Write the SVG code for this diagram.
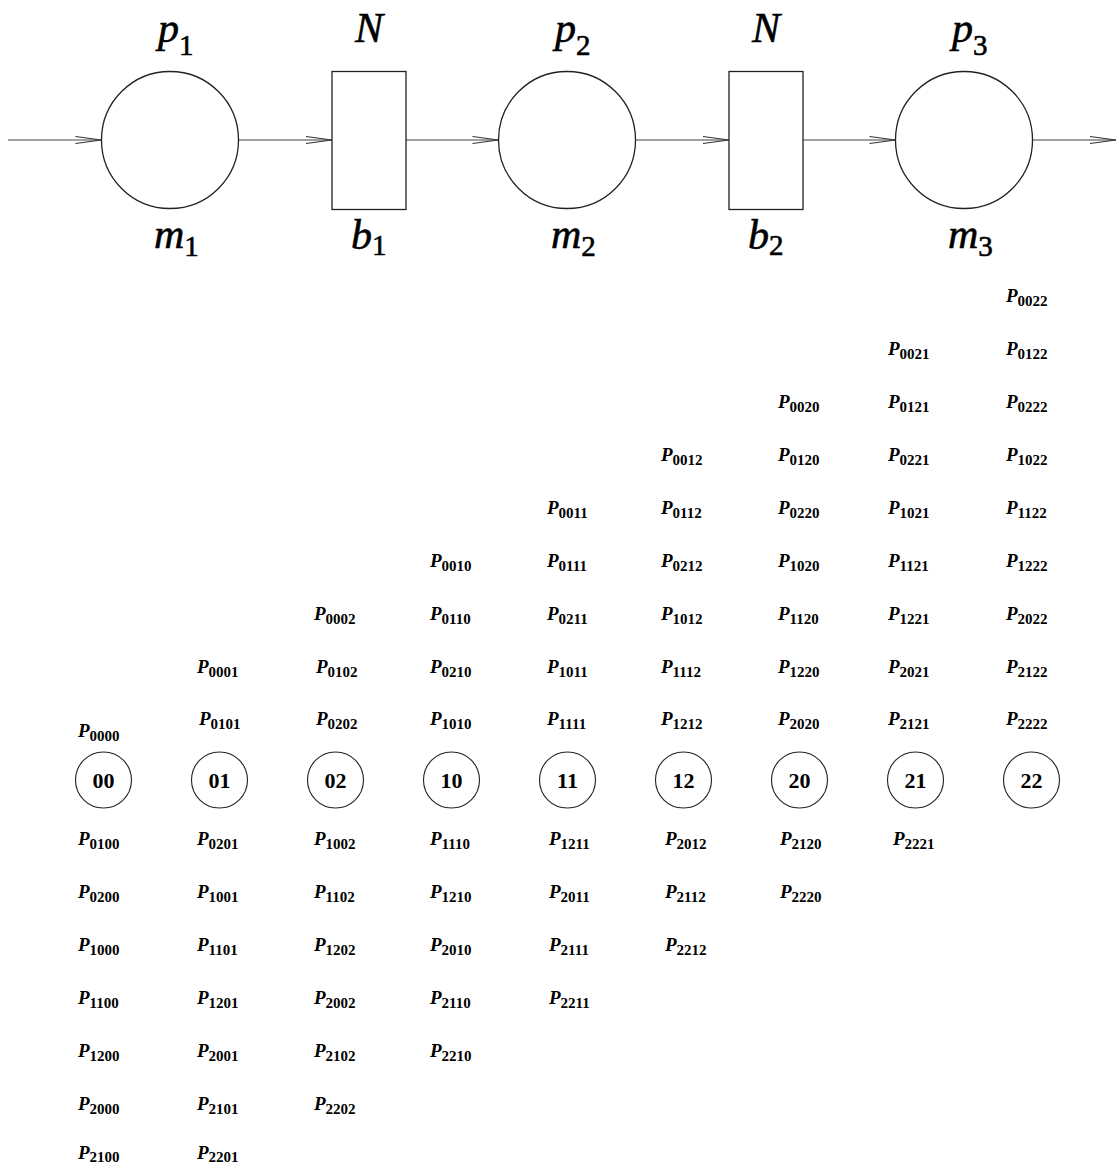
<svg xmlns="http://www.w3.org/2000/svg" width="1117" height="1166" viewBox="0 0 1117 1166">
<style>
.place{fill:#fff;stroke:#222;stroke-width:1.3}
.trans{fill:#fff;stroke:#222;stroke-width:1.3}
.conn{stroke:#444;stroke-width:1.2;fill:none}
.big{font-family:"Liberation Serif",serif;font-style:italic;font-size:42px;fill:#000;stroke:#000;stroke-width:0.6}
.bsub{font-style:normal;font-size:29px}
.st{fill:#fff;stroke:#222;stroke-width:1.1}
.stt{font-family:"Liberation Serif",serif;font-weight:bold;font-size:22px;fill:#000;text-anchor:middle}
.lb{font-family:"Liberation Serif",serif;font-weight:bold;font-style:italic;font-size:19px;fill:#000}
.ls{font-style:normal;font-size:15px}
</style>
<defs>
<marker id="ah" markerUnits="userSpaceOnUse" markerWidth="30" markerHeight="12" refX="26" refY="6" orient="auto" overflow="visible">
<path d="M0,2.5 L26,6 L0,9.5" fill="none" stroke="#333" stroke-width="1.2"/>
</marker>
</defs>
<rect width="1117" height="1166" fill="#fff"/>
<g id="connectors">
<line class="conn" x1="8" y1="140" x2="101.5" y2="140" marker-end="url(#ah)"/>
<line class="conn" x1="238.5" y1="140" x2="332" y2="140" marker-end="url(#ah)"/>
<line class="conn" x1="406" y1="140" x2="498.5" y2="140" marker-end="url(#ah)"/>
<line class="conn" x1="635.5" y1="140" x2="729" y2="140" marker-end="url(#ah)"/>
<line class="conn" x1="803" y1="140" x2="895.5" y2="140" marker-end="url(#ah)"/>
<line class="conn" x1="1032.5" y1="140" x2="1116" y2="140" marker-end="url(#ah)"/>
</g>
<g id="p1">
<circle class="place" cx="170" cy="140" r="68.5"/>
<text class="big" x="158" y="42">p<tspan class="bsub" dy="13">1</tspan></text>
<text class="big" x="154" y="248">m<tspan class="bsub" dy="8">1</tspan></text>
</g>
<g id="b1">
<rect class="trans" x="332" y="71.5" width="74" height="138"/>
<text class="big" x="369" y="42" text-anchor="middle">N</text>
<text class="big" x="351" y="249">b<tspan class="bsub" dy="6">1</tspan></text>
</g>
<g id="p2">
<circle class="place" cx="567" cy="140" r="68.5"/>
<text class="big" x="555" y="42">p<tspan class="bsub" dy="13">2</tspan></text>
<text class="big" x="551" y="248">m<tspan class="bsub" dy="8">2</tspan></text>
</g>
<g id="b2">
<rect class="trans" x="729" y="71.5" width="74" height="138"/>
<text class="big" x="766" y="42" text-anchor="middle">N</text>
<text class="big" x="748" y="249">b<tspan class="bsub" dy="6">2</tspan></text>
</g>
<g id="p3">
<circle class="place" cx="964" cy="140" r="68.5"/>
<text class="big" x="952" y="42">p<tspan class="bsub" dy="13">3</tspan></text>
<text class="big" x="948" y="248">m<tspan class="bsub" dy="8">3</tspan></text>
</g>
<g id="s00">
<circle class="st" cx="103.5" cy="780" r="28"/>
<text class="stt" x="103.5" y="788">00</text>
<text class="lb" x="78" y="737">P<tspan class="ls" dy="4">0000</tspan></text>
<text class="lb" x="78" y="845">P<tspan class="ls" dy="4">0100</tspan></text>
<text class="lb" x="78" y="898">P<tspan class="ls" dy="4">0200</tspan></text>
<text class="lb" x="78" y="951">P<tspan class="ls" dy="4">1000</tspan></text>
<text class="lb" x="78" y="1004">P<tspan class="ls" dy="4">1100</tspan></text>
<text class="lb" x="78" y="1057">P<tspan class="ls" dy="4">1200</tspan></text>
<text class="lb" x="78" y="1110">P<tspan class="ls" dy="4">2000</tspan></text>
<text class="lb" x="78" y="1159">P<tspan class="ls" dy="3">2100</tspan></text>
</g>
<g id="s01">
<circle class="st" cx="219.5" cy="780" r="28"/>
<text class="stt" x="219.5" y="788">01</text>
<text class="lb" x="197" y="673">P<tspan class="ls" dy="4">0001</tspan></text>
<text class="lb" x="199" y="725">P<tspan class="ls" dy="4">0101</tspan></text>
<text class="lb" x="197" y="845">P<tspan class="ls" dy="4">0201</tspan></text>
<text class="lb" x="197" y="898">P<tspan class="ls" dy="4">1001</tspan></text>
<text class="lb" x="197" y="951">P<tspan class="ls" dy="4">1101</tspan></text>
<text class="lb" x="197" y="1004">P<tspan class="ls" dy="4">1201</tspan></text>
<text class="lb" x="197" y="1057">P<tspan class="ls" dy="4">2001</tspan></text>
<text class="lb" x="197" y="1110">P<tspan class="ls" dy="4">2101</tspan></text>
<text class="lb" x="197" y="1159">P<tspan class="ls" dy="3">2201</tspan></text>
</g>
<g id="s02">
<circle class="st" cx="335.5" cy="780" r="28"/>
<text class="stt" x="335.5" y="788">02</text>
<text class="lb" x="314" y="620">P<tspan class="ls" dy="4">0002</tspan></text>
<text class="lb" x="316" y="673">P<tspan class="ls" dy="4">0102</tspan></text>
<text class="lb" x="316" y="725">P<tspan class="ls" dy="4">0202</tspan></text>
<text class="lb" x="314" y="845">P<tspan class="ls" dy="4">1002</tspan></text>
<text class="lb" x="314" y="898">P<tspan class="ls" dy="4">1102</tspan></text>
<text class="lb" x="314" y="951">P<tspan class="ls" dy="4">1202</tspan></text>
<text class="lb" x="314" y="1004">P<tspan class="ls" dy="4">2002</tspan></text>
<text class="lb" x="314" y="1057">P<tspan class="ls" dy="4">2102</tspan></text>
<text class="lb" x="314" y="1110">P<tspan class="ls" dy="4">2202</tspan></text>
</g>
<g id="s10">
<circle class="st" cx="451.5" cy="780" r="28"/>
<text class="stt" x="451.5" y="788">10</text>
<text class="lb" x="430" y="567">P<tspan class="ls" dy="4">0010</tspan></text>
<text class="lb" x="430" y="620">P<tspan class="ls" dy="4">0110</tspan></text>
<text class="lb" x="430" y="673">P<tspan class="ls" dy="4">0210</tspan></text>
<text class="lb" x="430" y="725">P<tspan class="ls" dy="4">1010</tspan></text>
<text class="lb" x="430" y="845">P<tspan class="ls" dy="4">1110</tspan></text>
<text class="lb" x="430" y="898">P<tspan class="ls" dy="4">1210</tspan></text>
<text class="lb" x="430" y="951">P<tspan class="ls" dy="4">2010</tspan></text>
<text class="lb" x="430" y="1004">P<tspan class="ls" dy="4">2110</tspan></text>
<text class="lb" x="430" y="1057">P<tspan class="ls" dy="4">2210</tspan></text>
</g>
<g id="s11">
<circle class="st" cx="567.5" cy="780" r="28"/>
<text class="stt" x="567.5" y="788">11</text>
<text class="lb" x="547" y="514">P<tspan class="ls" dy="4">0011</tspan></text>
<text class="lb" x="547" y="567">P<tspan class="ls" dy="4">0111</tspan></text>
<text class="lb" x="547" y="620">P<tspan class="ls" dy="4">0211</tspan></text>
<text class="lb" x="547" y="673">P<tspan class="ls" dy="4">1011</tspan></text>
<text class="lb" x="547" y="725">P<tspan class="ls" dy="4">1111</tspan></text>
<text class="lb" x="549" y="845">P<tspan class="ls" dy="4">1211</tspan></text>
<text class="lb" x="549" y="898">P<tspan class="ls" dy="4">2011</tspan></text>
<text class="lb" x="549" y="951">P<tspan class="ls" dy="4">2111</tspan></text>
<text class="lb" x="549" y="1004">P<tspan class="ls" dy="4">2211</tspan></text>
</g>
<g id="s12">
<circle class="st" cx="683.5" cy="780" r="28"/>
<text class="stt" x="683.5" y="788">12</text>
<text class="lb" x="661" y="461">P<tspan class="ls" dy="4">0012</tspan></text>
<text class="lb" x="661" y="514">P<tspan class="ls" dy="4">0112</tspan></text>
<text class="lb" x="661" y="567">P<tspan class="ls" dy="4">0212</tspan></text>
<text class="lb" x="661" y="620">P<tspan class="ls" dy="4">1012</tspan></text>
<text class="lb" x="661" y="673">P<tspan class="ls" dy="4">1112</tspan></text>
<text class="lb" x="661" y="725">P<tspan class="ls" dy="4">1212</tspan></text>
<text class="lb" x="665" y="845">P<tspan class="ls" dy="4">2012</tspan></text>
<text class="lb" x="665" y="898">P<tspan class="ls" dy="4">2112</tspan></text>
<text class="lb" x="665" y="951">P<tspan class="ls" dy="4">2212</tspan></text>
</g>
<g id="s20">
<circle class="st" cx="799.5" cy="780" r="28"/>
<text class="stt" x="799.5" y="788">20</text>
<text class="lb" x="778" y="408">P<tspan class="ls" dy="4">0020</tspan></text>
<text class="lb" x="778" y="461">P<tspan class="ls" dy="4">0120</tspan></text>
<text class="lb" x="778" y="514">P<tspan class="ls" dy="4">0220</tspan></text>
<text class="lb" x="778" y="567">P<tspan class="ls" dy="4">1020</tspan></text>
<text class="lb" x="778" y="620">P<tspan class="ls" dy="4">1120</tspan></text>
<text class="lb" x="778" y="673">P<tspan class="ls" dy="4">1220</tspan></text>
<text class="lb" x="778" y="725">P<tspan class="ls" dy="4">2020</tspan></text>
<text class="lb" x="780" y="845">P<tspan class="ls" dy="4">2120</tspan></text>
<text class="lb" x="780" y="898">P<tspan class="ls" dy="4">2220</tspan></text>
</g>
<g id="s21">
<circle class="st" cx="915.5" cy="780" r="28"/>
<text class="stt" x="915.5" y="788">21</text>
<text class="lb" x="888" y="355">P<tspan class="ls" dy="4">0021</tspan></text>
<text class="lb" x="888" y="408">P<tspan class="ls" dy="4">0121</tspan></text>
<text class="lb" x="888" y="461">P<tspan class="ls" dy="4">0221</tspan></text>
<text class="lb" x="888" y="514">P<tspan class="ls" dy="4">1021</tspan></text>
<text class="lb" x="888" y="567">P<tspan class="ls" dy="4">1121</tspan></text>
<text class="lb" x="888" y="620">P<tspan class="ls" dy="4">1221</tspan></text>
<text class="lb" x="888" y="673">P<tspan class="ls" dy="4">2021</tspan></text>
<text class="lb" x="888" y="725">P<tspan class="ls" dy="4">2121</tspan></text>
<text class="lb" x="893" y="845">P<tspan class="ls" dy="4">2221</tspan></text>
</g>
<g id="s22">
<circle class="st" cx="1031.5" cy="780" r="28"/>
<text class="stt" x="1031.5" y="788">22</text>
<text class="lb" x="1006" y="302">P<tspan class="ls" dy="4">0022</tspan></text>
<text class="lb" x="1006" y="355">P<tspan class="ls" dy="4">0122</tspan></text>
<text class="lb" x="1006" y="408">P<tspan class="ls" dy="4">0222</tspan></text>
<text class="lb" x="1006" y="461">P<tspan class="ls" dy="4">1022</tspan></text>
<text class="lb" x="1006" y="514">P<tspan class="ls" dy="4">1122</tspan></text>
<text class="lb" x="1006" y="567">P<tspan class="ls" dy="4">1222</tspan></text>
<text class="lb" x="1006" y="620">P<tspan class="ls" dy="4">2022</tspan></text>
<text class="lb" x="1006" y="673">P<tspan class="ls" dy="4">2122</tspan></text>
<text class="lb" x="1006" y="725">P<tspan class="ls" dy="4">2222</tspan></text>
</g>
</svg>
